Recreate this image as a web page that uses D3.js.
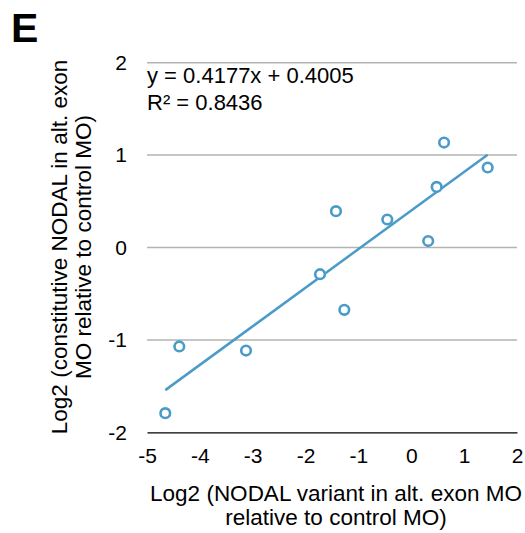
<!DOCTYPE html>
<html>
<head>
<meta charset="utf-8">
<script src="https://cdn.jsdelivr.net/npm/d3@7"></script>
<style>
  body { margin: 0; background: #fff; }
  svg { display: block; font-family: "Liberation Sans", Arial, sans-serif; }
</style>
</head>
<body>
<div id="chart"></div>
<script>
  'use strict';

  // values
  var xValues = [-4.654, -4.389, -3.127, -1.727, -1.425, -1.267, -0.454, 0.32, 0.48, 0.62, 1.445],
      yValues = [-1.793, -1.071, -1.115, -0.289, 0.393, -0.675, 0.303, 0.07, 0.656, 1.136, 0.866],
      xTicks = [-5, -4, -3, -2, -1, 0, 1, 2],
      yTicks = [-2, -1, 0, 1, 2],
      slope = 0.4177,
      intercept = 0.4005,
      equationLines = ['y = 0.4177x + 0.4005', 'R\u00b2 = 0.8436'],
      xTitleLines = ['Log2 (NODAL variant in alt. exon MO', 'relative to control MO)'],
      yTitleLines = ['Log2 (constitutive NODAL in alt. exon', 'MO relative to control MO)'];

  var WIDTH = 525,
      HEIGHT = 533,
      LEFT = 147,
      RIGHT = 517,
      TOP = 62.7,
      BOTTOM = 432.3,
      BLUE = '#4a9bc8',
      FONT = '"Liberation Sans", Arial, sans-serif';

  var svg = d3.select('#chart').append('svg')
      .attr('width', WIDTH)
      .attr('height', HEIGHT);

  var x = d3.scaleLinear().domain([-5, 2]).range([LEFT, RIGHT]),
      y = d3.scaleLinear().domain([-2, 2]).range([BOTTOM, TOP]);

  function minusFormat(d) {
    return d < 0 ? '-' + Math.abs(d) : d;
  }

  // gridlines
  svg.append('g')
    .selectAll('line')
    .data(yTicks.filter(function (d) { return d > -2; }))
    .enter().append('line')
      .attr('x1', LEFT)
      .attr('x2', RIGHT)
      .attr('y1', function (d) { return y(d); })
      .attr('y2', function (d) { return y(d); })
      .attr('stroke', '#b3b3b3')
      .attr('stroke-width', 1.5);

  // x axis
  var xAxis = svg.append('g')
      .attr('transform', 'translate(0,' + BOTTOM + ')')
      .call(d3.axisBottom(x).tickValues(xTicks).tickSize(0).tickPadding(16).tickFormat(minusFormat));
  xAxis.select('.domain').attr('stroke', '#000').attr('stroke-width', 1.3);
  xAxis.selectAll('text')
      .attr('font-size', 21)
      .attr('font-family', FONT)
      .attr('fill', '#000');

  // y axis
  var yAxis = svg.append('g')
      .attr('transform', 'translate(' + LEFT + ',0)')
      .call(d3.axisLeft(y).tickValues(yTicks).tickSize(0).tickPadding(20).tickFormat(minusFormat));
  yAxis.select('.domain').remove();
  yAxis.selectAll('text')
      .attr('font-size', 21)
      .attr('font-family', FONT)
      .attr('fill', '#000');

  // trendline
  var xExtent = d3.extent(xValues);
  svg.append('line')
      .attr('x1', x(xExtent[0]))
      .attr('y1', y(slope * xExtent[0] + intercept))
      .attr('x2', x(xExtent[1]))
      .attr('y2', y(slope * xExtent[1] + intercept))
      .attr('stroke', BLUE)
      .attr('stroke-width', 2.5);

  // points
  svg.append('g')
    .selectAll('circle')
    .data(xValues)
    .enter().append('circle')
      .attr('cx', function (d) { return x(d); })
      .attr('cy', function (d, i) { return y(yValues[i]); })
      .attr('r', 4.8)
      .attr('fill', '#fff')
      .attr('stroke', BLUE)
      .attr('stroke-width', 2.6);

  // equation
  svg.append('g')
    .selectAll('text')
    .data(equationLines)
    .enter().append('text')
      .attr('x', LEFT)
      .attr('y', function (d, i) { return 83 + i * 27; })
      .attr('font-size', 22)
      .text(function (d) { return d; });

  // x title
  svg.append('g')
    .selectAll('text')
    .data(xTitleLines)
    .enter().append('text')
      .attr('x', 336)
      .attr('y', function (d, i) { return 501 + i * 24; })
      .attr('text-anchor', 'middle')
      .attr('font-size', 22.5)
      .text(function (d) { return d; });

  // y title
  svg.append('g')
    .attr('transform', 'translate(0,247) rotate(-90)')
    .selectAll('text')
    .data(yTitleLines)
    .enter().append('text')
      .attr('x', 0)
      .attr('y', function (d, i) { return 67 + i * 24; })
      .attr('text-anchor', 'middle')
      .attr('font-size', 22.5)
      .text(function (d) { return d; });

  // panel letter
  svg.append('text')
      .attr('x', 11)
      .attr('y', 42)
      .attr('font-size', 41)
      .attr('font-weight', 'bold')
      .text('E');
</script>
</body>
</html>
